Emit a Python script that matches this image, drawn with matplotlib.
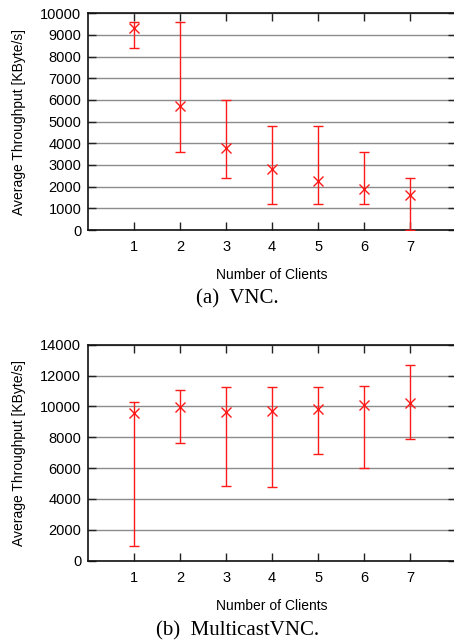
import matplotlib
matplotlib.use("Agg")
import matplotlib.pyplot as plt
import numpy as np

# Number of clients
clients = [1, 2, 3, 4, 5, 6, 7]

# (a) VNC: mean throughput with min / max range [KByte/s]
vnc_mean = [9300, 5730, 3800, 2800, 2260, 1890, 1630]
vnc_low = [8400, 3600, 2400, 1200, 1200, 1200, 0]
vnc_high = [9600, 9600, 6000, 4800, 4800, 3600, 2400]

# (b) MulticastVNC: mean throughput with min / max range [KByte/s]
mvnc_mean = [9600, 9940, 9660, 9680, 9810, 10110, 10200]
mvnc_low = [950, 7600, 4820, 4750, 6890, 5980, 7910]
mvnc_high = [10260, 11080, 11230, 11280, 11250, 11320, 12660]

vnc_yticks = list(range(0, 10001, 1000))
mvnc_yticks = list(range(0, 14001, 2000))

captions = ["(a)  VNC.", "(b)  MulticastVNC."]
xlabel = "Number of Clients"
ylabel = "Average Throughput [KByte/s]"

plt.rcParams["font.family"] = ["Liberation Sans", "DejaVu Sans"]

fig = plt.figure(figsize=(4.54, 6.41), dpi=100)

W, H = 454.0, 641.0
left_px, right_px = 88.3, 456.0


def make_axes(top_px, bottom_px):
    return fig.add_axes([left_px / W, 1 - bottom_px / H,
                         (right_px - left_px) / W, (bottom_px - top_px) / H])


def draw_panel(ax, mean, low, high, yticks):
    mean = np.asarray(mean, dtype=float)
    yerr = np.vstack([mean - np.asarray(low), np.asarray(high) - mean])
    ax.errorbar(clients, mean, yerr=yerr, fmt="x", color="#ff1a1a",
                ecolor="#ff1a1a", elinewidth=1.0, capsize=3.4, capthick=1.0,
                markersize=7.5, markeredgewidth=1.0, zorder=3)
    ax.set_xlim(0, 8)
    ax.set_ylim(yticks[0], yticks[-1])
    ax.set_xticks(clients)
    ax.set_yticks(yticks)
    ax.yaxis.grid(True, color="#8c8c8c", linewidth=1.0)
    ax.set_axisbelow(True)
    ax.tick_params(direction="in", length=6, width=1.0, colors="#222222",
                   labelcolor="black", labelsize=10.5, top=True, right=True)
    ax.tick_params(axis="x", pad=7.5)
    ax.tick_params(axis="y", pad=5)
    for s in ax.spines.values():
        s.set_linewidth(1.2)
        s.set_color("#111111")
    ax.set_xlabel(xlabel, fontsize=10, labelpad=10)
    ax.set_ylabel(ylabel, fontsize=10, labelpad=10)


ax1 = make_axes(13.3, 230.0)
draw_panel(ax1, vnc_mean, vnc_low, vnc_high, vnc_yticks)

ax2 = make_axes(344.7, 560.7)
draw_panel(ax2, mvnc_mean, mvnc_low, mvnc_high, mvnc_yticks)

fig.text(237.5 / W, 1 - 298.5 / H, captions[0], ha="center", va="center",
         fontsize=15, family=["Liberation Serif", "DejaVu Serif"])
fig.text(237.5 / W, 1 - 630.5 / H, captions[1], ha="center", va="center",
         fontsize=15, family=["Liberation Serif", "DejaVu Serif"])

fig.savefig("out.png", dpi=100)
